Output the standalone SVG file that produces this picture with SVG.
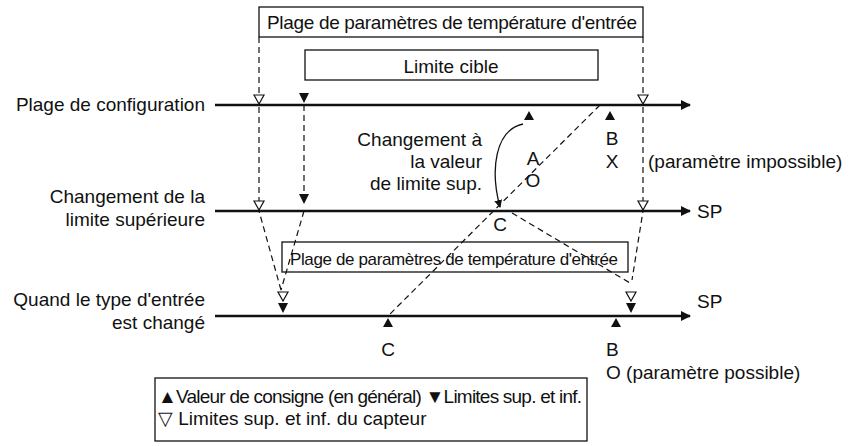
<svg xmlns="http://www.w3.org/2000/svg" width="849" height="446" viewBox="0 0 849 446">
<style>
text{font-family:"Liberation Sans",Arial,sans-serif;font-size:19px;fill:#111}
.ax{stroke:#111;stroke-width:2.5;fill:none}
.d{stroke:#111;stroke-width:1.2;stroke-dasharray:6,4;fill:none}
.bx{fill:#fff;stroke:#111;stroke-width:1.3}
.f{fill:#111}
.o{fill:#fff;stroke:#111;stroke-width:1.2}
.r{text-anchor:end}
.m{text-anchor:middle}
</style>
<defs>
<marker id="ah" markerWidth="10" markerHeight="10" refX="9" refY="5" orient="auto" markerUnits="userSpaceOnUse"><path d="M0,0L10,5L0,10z" fill="#111"/></marker>
<marker id="ah2" markerWidth="8" markerHeight="8" refX="7" refY="4" orient="auto" markerUnits="userSpaceOnUse"><path d="M0,0L8,4L0,8z" fill="#111"/></marker>
</defs>
<g id="connectors">
<path class="d" d="M259,37V211L281,290M304,105V204M304,211L281,290M643,37V211L632,280M600,105L388,316M512,213L630,283"/>
<path d="M304,204l-5,-10h10z" class="f"/>
<path d="M523,124C495,130 490,170 500,207" fill="none" stroke="#111" stroke-width="1.3" marker-end="url(#ah2)"/>
</g>
<g id="axis1"><path class="ax" d="M215,105H690" marker-end="url(#ah)"/><text class="r" x="205" y="111">Plage de configuration</text></g>
<g id="axis2"><path class="ax" d="M215,211H690" marker-end="url(#ah)"/><text x="697" y="218">SP</text><text class="r" x="205" y="203">Changement de la</text><text class="r" x="205" y="226">limite supérieure</text></g>
<g id="axis3"><path class="ax" d="M215,316H690" marker-end="url(#ah)"/><text x="697" y="308">SP</text><text class="r" x="205" y="306">Quand le type d'entrée</text><text class="r" x="205" y="329">est changé</text></g>
<g id="box-top"><rect class="bx" x="259" y="7" width="384" height="30"/><text class="m" x="452" y="29" textLength="370">Plage de paramètres de température d'entrée</text></g>
<g id="box-cible"><rect class="bx" x="305" y="50" width="293" height="30"/><text class="m" x="451" y="73">Limite cible</text></g>
<g id="box-low"><rect x="282" y="242" width="346" height="30" fill="none" stroke="#111" stroke-width="1.3"/><text class="m" x="454" y="265" textLength="328" style="font-size:17px">Plage de paramètres de température d'entrée</text></g>
<g id="marks">
<path class="o" d="M254,95h10l-5,9z M638,95h10l-5,9z M254,201h10l-5,9z M638,201h10l-5,9z M278,292h10l-5,9z M626,292h10l-5,9z"/>
<path class="f" d="M299,93h10l-5,10z M278,303h10l-5,10z M626,303h10l-5,10z M524,120h10l-5,-9z M605,120h10l-5,-9z M383,327h10l-5,-9z M611,327h10l-5,-9z"/>
</g>
<g id="labels">
<text class="r" x="482" y="146">Changement à</text>
<text class="r" x="482" y="168">la valeur</text>
<text class="r" x="482" y="190">de limite sup.</text>
<text class="m" x="533" y="165">A</text><text class="m" x="533" y="187">O</text>
<text class="m" x="612" y="145">B</text><text class="m" x="612" y="168">X</text>
<text x="648" y="168">(paramètre impossible)</text>
<text class="m" x="500" y="231">C</text>
<text class="m" x="388" y="356">C</text>
<text x="606" y="356">B</text>
<text x="606" y="379">O (paramètre possible)</text>
</g>
<g id="legend"><rect class="bx" x="155" y="378" width="432" height="63"/>
<text x="158" y="403" textLength="424">▲Valeur de consigne (en général) ▼Limites sup. et inf.</text>
<text x="158" y="425">▽ Limites sup. et inf. du capteur</text></g>
</svg>
